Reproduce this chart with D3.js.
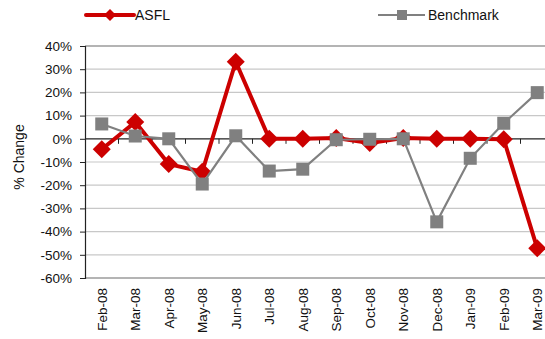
<!DOCTYPE html>
<html>
<head>
<meta charset="utf-8">
<script src="https://cdn.jsdelivr.net/npm/d3@7"></script>
<style>
  html, body { margin: 0; padding: 0; background: #fff; }
  svg { display: block; font-family: "Liberation Sans", Arial, sans-serif; }
</style>
</head>
<body>
<svg id="chart" width="545" height="339"></svg>
<script>
// Monthly % change, ASFL vs benchmark
const months = ["Feb-08", "Mar-08", "Apr-08", "May-08", "Jun-08", "Jul-08", "Aug-08",
                "Sep-08", "Oct-08", "Nov-08", "Dec-08", "Jan-09", "Feb-09", "Mar-09"];
const asfl = [-4.5, 7.2, -10.9, -14.2, 33.2, 0, 0, 0.3, -1.8, 0.3, 0, 0, -0.2, -47.2];
const benchmark = [6.4, 1.2, 0, -19.5, 1.3, -13.9, -13.1, -0.4, -0.2, 0, -35.8, -8.4, 6.7, 19.9];
const yTicks = [40, 30, 20, 10, 0, -10, -20, -30, -40, -50, -60];

const svg = d3.select("#chart");
const margin = { left: 85, top: 46, right: 554, bottom: 278 };

const x = d3.scaleBand().domain(months).range([margin.left, margin.right]);
const y = d3.scaleLinear().domain([-60, 40]).range([margin.bottom, margin.top]);
const cx = d => x(d) + x.bandwidth() / 2;

// Horizontal gridlines
svg.append("g")
  .selectAll("line")
  .data(yTicks.filter(t => t !== 40 && t !== -60 && t !== 0))
  .join("line")
  .attr("x1", margin.left).attr("x2", 545)
  .attr("y1", d => y(d)).attr("y2", d => y(d))
  .attr("stroke", "#c8c8c8").attr("stroke-width", 1.2);

// Plot area top and bottom border
[40, -60].forEach(v => {
  svg.append("line")
    .attr("x1", margin.left).attr("x2", 545)
    .attr("y1", y(v)).attr("y2", y(v))
    .attr("stroke", "#6a6a6a").attr("stroke-width", 1.2);
});

// Y axis
const yAxis = d3.axisLeft(y)
  .tickValues(yTicks)
  .tickSize(5)
  .tickPadding(8)
  .tickFormat(d => d + "%");
const gy = svg.append("g")
  .attr("transform", `translate(${margin.left},0)`)
  .call(yAxis);
gy.select(".domain").attr("stroke", "#222").attr("stroke-width", 1.2);
gy.selectAll(".tick line").attr("stroke", "#222");
gy.selectAll(".tick text")
  .attr("font-size", 13.5).attr("fill", "#111")
  .attr("font-family", "Liberation Sans, Arial, sans-serif");

// X axis along the zero line, ticks between categories
const boundaries = d3.range(months.length + 1).map(i => margin.left + i * x.bandwidth());
svg.append("line")
  .attr("x1", margin.left).attr("x2", 545)
  .attr("y1", y(0)).attr("y2", y(0))
  .attr("stroke", "#222").attr("stroke-width", 1.2);
svg.append("g")
  .selectAll("line")
  .data(boundaries.slice(1))
  .join("line")
  .attr("x1", d => d).attr("x2", d => d)
  .attr("y1", y(0)).attr("y2", y(0) + 5)
  .attr("stroke", "#222");

// Category labels, rotated
svg.append("g")
  .selectAll("text")
  .data(months)
  .join("text")
  .attr("transform", d => `translate(${cx(d) + 5},${margin.bottom + 10}) rotate(-90)`)
  .attr("text-anchor", "end")
  .attr("font-size", 13.5)
  .attr("fill", "#111")
  .text(d => d);

// Y axis title
svg.append("text")
  .attr("transform", `translate(24,${(margin.top + margin.bottom) / 2 - 5}) rotate(-90)`)
  .attr("text-anchor", "middle")
  .attr("font-size", 14)
  .attr("fill", "#111")
  .text("% Change");

const line = d3.line().x((d, i) => cx(months[i])).y(d => y(d));
const diamond = s => `M0,${-s}L${s},0L0,${s}L${-s},0Z`;

// ASFL series
svg.append("path")
  .datum(asfl)
  .attr("d", line)
  .attr("fill", "none")
  .attr("stroke", "#cc0000")
  .attr("stroke-width", 4)
  .attr("stroke-linejoin", "round");
svg.append("g")
  .selectAll("path")
  .data(asfl)
  .join("path")
  .attr("transform", (d, i) => `translate(${cx(months[i])},${y(d)})`)
  .attr("d", diamond(9))
  .attr("fill", "#cc0000");

// Benchmark series
svg.append("path")
  .datum(benchmark)
  .attr("d", line)
  .attr("fill", "none")
  .attr("stroke", "#808080")
  .attr("stroke-width", 2.2);
svg.append("g")
  .selectAll("rect")
  .data(benchmark)
  .join("rect")
  .attr("x", (d, i) => cx(months[i]) - 6.5)
  .attr("y", d => y(d) - 6.5)
  .attr("width", 13).attr("height", 13)
  .attr("fill", "#808080");

// Legend
const legend = svg.append("g");
legend.append("line")
  .attr("x1", 86).attr("x2", 134).attr("y1", 15).attr("y2", 15)
  .attr("stroke", "#cc0000").attr("stroke-width", 4).attr("stroke-linecap", "round");
legend.append("path")
  .attr("transform", "translate(110,15)")
  .attr("d", diamond(6))
  .attr("fill", "#cc0000");
legend.append("text")
  .attr("x", 135).attr("y", 20)
  .attr("font-size", 14).attr("fill", "#111")
  .text("ASFL");

legend.append("line")
  .attr("x1", 378).attr("x2", 425).attr("y1", 15).attr("y2", 15)
  .attr("stroke", "#808080").attr("stroke-width", 2);
legend.append("rect")
  .attr("x", 397).attr("y", 10).attr("width", 10).attr("height", 10)
  .attr("fill", "#808080");
legend.append("text")
  .attr("x", 428).attr("y", 20)
  .attr("font-size", 14).attr("fill", "#111")
  .text("Benchmark");
</script>
</body>
</html>
